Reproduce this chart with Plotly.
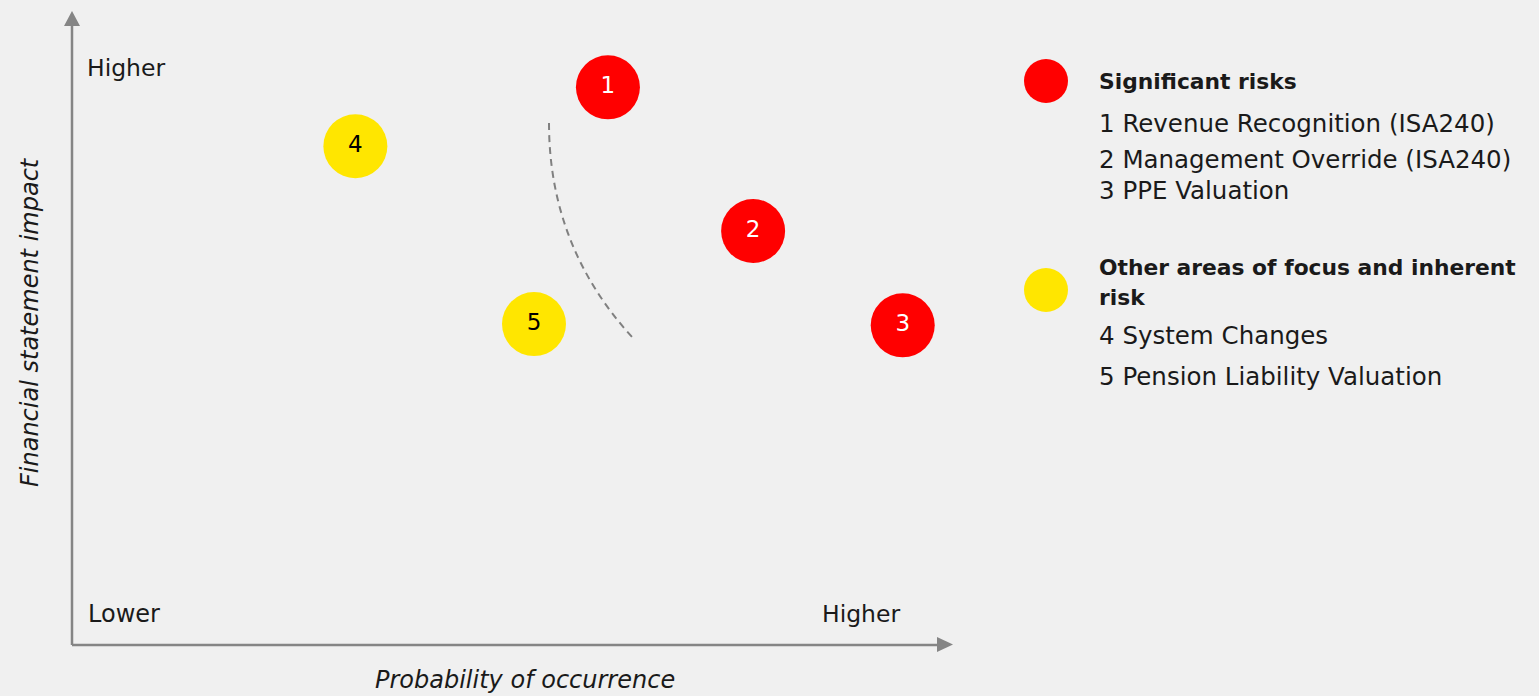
import plotly.graph_objects as go

W, H = 1539, 696
BG = "#f0f0f0"
FONT = "DejaVu Sans"

# Risk items: probability (x) and impact (y) scores on 0-10 scale
labels = ["1", "2", "3", "4", "5"]
prob = [6.09, 7.74, 9.44, 3.22, 5.25]
impact = [8.81, 6.54, 5.05, 7.88, 5.07]
category = ["sig", "sig", "sig", "other", "other"]

colors = {"sig": "#ff0000", "other": "#ffe600"}
text_colors = {"sig": "#ffffff", "other": "#000000"}

sig_title = "Significant risks"
sig_items = ["1 Revenue Recognition (ISA240)", "2 Management Override (ISA240)", "3 PPE Valuation"]
oth_title = ["Other areas of focus and inherent", "risk"]
oth_items = ["4 System Changes", "5 Pension Liability Valuation"]

# pixel mapping of axes (origin at px 72,645; 10 units -> px 952 / 12)
ox, oy = 72, 645
sx = (952 - 72) / 10.0
sy = (645 - 12) / 10.0
xr = [-ox / sx, (W - ox) / sx]
yr = [-(H - oy) / sy, oy / sy]


def dx(px):
    return (px - ox) / sx


def dy(py):
    return (oy - py) / sy


fig = go.Figure()
fig.add_trace(go.Scatter(
    x=prob, y=impact, mode="markers+text", text=labels,
    marker=dict(size=64, color=[colors[c] for c in category], line=dict(width=0)),
    textfont=dict(size=23, family=FONT, color=[text_colors[c] for c in category]),
    textposition="middle center", hoverinfo="skip", showlegend=False,
))

AX = "#858585"
shapes = [
    dict(type="line", xref="x", yref="y", x0=0, y0=0, x1=0, y1=dy(26), line=dict(color=AX, width=2.5)),
    dict(type="line", xref="x", yref="y", x0=0, y0=0, x1=dx(938), y1=0, line=dict(color=AX, width=2.5)),
    dict(type="path", xref="x", yref="y",
         path=f"M {dx(64)},{dy(26)} L {dx(80)},{dy(26)} L {dx(72)},{dy(11)} Z",
         fillcolor=AX, line=dict(width=0)),
    dict(type="path", xref="x", yref="y",
         path=f"M {dx(937)},{dy(637)} L {dx(937)},{dy(652)} L {dx(953)},{dy(644.5)} Z",
         fillcolor=AX, line=dict(width=0)),
    # dashed threshold curve
    dict(type="path", xref="x", yref="y",
         path=f"M {dx(549)},{dy(123)} Q {dx(549)},{dy(246)} {dx(632)},{dy(337)}",
         line=dict(color="#808080", width=2, dash="7px,5px")),
    # legend circles
    dict(type="circle", xref="paper", yref="paper",
         x0=1024 / W, x1=1068 / W, y0=1 - 103 / H, y1=1 - 59 / H,
         fillcolor=colors["sig"], line=dict(width=0)),
    dict(type="circle", xref="paper", yref="paper",
         x0=1024 / W, x1=1068 / W, y0=1 - 312 / H, y1=1 - 268 / H,
         fillcolor=colors["other"], line=dict(width=0)),
]

ann = []


def txt(t, px, py, size=22, bold=False, italic=False, anchor="left", angle=0):
    s = t
    if bold:
        s = f"<b>{s}</b>"
    if italic:
        s = f"<i>{s}</i>"
    ann.append(dict(text=s, xref="paper", yref="paper", x=px / W, y=1 - py / H,
                    xanchor=anchor, yanchor="middle", showarrow=False, textangle=angle,
                    font=dict(size=size, family=FONT, color="#1a1a1a")))


txt("Higher", 85, 68, size=23.5)
txt("Lower", 86, 614, size=24)
txt("Higher", 820, 614, size=23.5)
txt("Probability of occurrence", 525, 680, size=24, italic=True, anchor="center")
txt("Financial statement impact", 30, 322, size=24, italic=True, anchor="center", angle=-90)

txt(sig_title, 1097, 81, size=21.8, bold=True)
for i, t in enumerate(sig_items):
    txt(t, 1097, [124, 159, 191][i], size=24.5)
txt(oth_title[0], 1097, 267, size=21.8, bold=True)
txt(oth_title[1], 1097, 298, size=21.8, bold=True)
for i, t in enumerate(oth_items):
    txt(t, 1097, [335, 376][i], size=24.5)

fig.update_layout(
    width=W, height=H, margin=dict(l=0, r=0, t=0, b=0),
    paper_bgcolor=BG, plot_bgcolor=BG,
    xaxis=dict(range=xr, visible=False, fixedrange=True),
    yaxis=dict(range=yr, visible=False, fixedrange=True),
    shapes=shapes, annotations=ann, showlegend=False,
)
fig.write_html("out.html", config={"displayModeBar": False},
               post_script="document.body.style.margin='0';document.body.style.overflow='hidden';")
